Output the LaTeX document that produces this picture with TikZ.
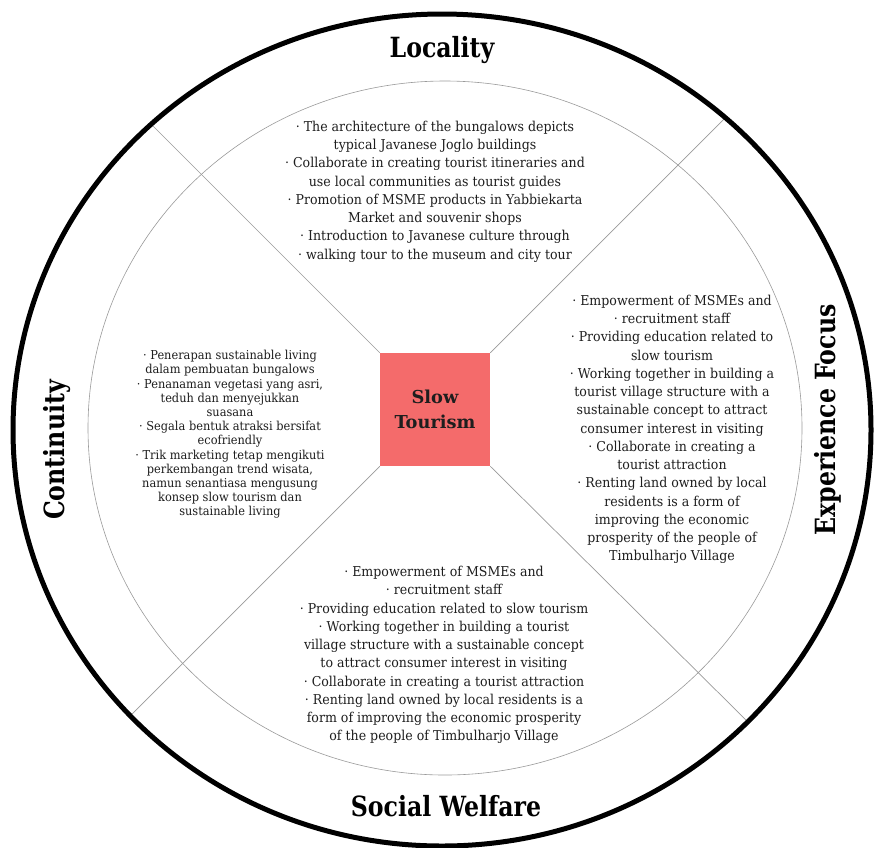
\documentclass[tikz,border=0pt]{standalone}
\usepackage{fontspec}
\setmainfont{DejaVu Serif}
\newfontfamily\titlefont{DejaVu Serif}[FakeStretch=0.85]
\newfontfamily\bodyfont{DejaVu Serif}[FakeStretch=0.925]
\newfontfamily\corefont{DejaVu Serif}
\definecolor{boxred}{HTML}{F46B6B}
\definecolor{thin}{HTML}{9A9A9A}
\definecolor{ink}{HTML}{1E1E1E}
\tikzset{
  outerring/.style={line width=5pt, draw=black},
  innerring/.style={line width=0.6pt, draw=thin},
  divider/.style={line width=0.7pt, draw=thin},
  corebox/.style={fill=boxred, draw=none, minimum width=110pt, minimum height=113pt, inner sep=0pt,
    font=\corefont\bfseries\fontsize{17.8}{25}\selectfont, text=ink, align=center},
  bigtitle/.style={font=\titlefont\bfseries\fontsize{27.8}{30}\selectfont, text=black},
  bodytext/.style={font=\bodyfont\fontsize{13.6}{18.25}\selectfont, align=center, text=ink, inner sep=0pt},
  smalltext/.style={font=\bodyfont\fontsize{12.3}{14.2}\selectfont, align=center, text=ink, inner sep=0pt}
}
\begin{document}
\begin{tikzpicture}[x=1pt,y=-1pt]
\useasboundingbox (0,0) rectangle (874,847);
\fill[white] (0,0) rectangle (874,847);

% coordinates of divider ends on the outer ring
\coordinate (tl) at (152,125);
\coordinate (tr) at (725,118);
\coordinate (br) at (749,723);
\coordinate (bl) at (130,716);

\node[corebox] (core) at (435,409.5) {Slow\\Tourism};

\draw[divider] (core.north west) -- (tl);
\draw[divider] (core.north east) -- (tr);
\draw[divider] (core.south east) -- (br);
\draw[divider] (core.south west) -- (bl);

\draw[innerring] (445,428) ellipse [x radius=357, y radius=347];
\draw[outerring] (442,430) ellipse [x radius=429, y radius=416];

\node[bigtitle] (loc) at (442,50) {Locality};
\node[bigtitle] (soc) at (446,806) {Social Welfare};
\node[bigtitle, rotate=90] (exp) at (828,420) {Experience Focus};
\node[bigtitle, rotate=90] (con) at (57,450) {Continuity};

\node[bodytext] (ltext) at (435,191.5) {%
· The architecture of the bungalows depicts\\
typical Javanese Joglo buildings\\
· Collaborate in creating tourist itineraries and\\
use local communities as tourist guides\\
· Promotion of MSME products in Yabbiekarta\\
Market and souvenir shops\\
· Introduction to Javanese culture through\\
· walking tour to the museum and city tour};

\node[bodytext] (etext) at (672,429.5) {%
· Empowerment of MSMEs and\\
· recruitment staff\\
· Providing education related to\\
slow tourism\\
· Working together in building a\\
tourist village structure with a\\
sustainable concept to attract\\
consumer interest in visiting\\
· Collaborate in creating a\\
tourist attraction\\
· Renting land owned by local\\
residents is a form of\\
improving the economic\\
prosperity of the people of\\
Timbulharjo Village};

\node[smalltext] (ctext) at (230,434.5) {%
· Penerapan sustainable living\\
dalam pembuatan bungalows\\
· Penanaman vegetasi yang asri,\\
teduh dan menyejukkan\\
suasana\\
· Segala bentuk atraksi bersifat\\
ecofriendly\\
· Trik marketing tetap mengikuti\\
perkembangan trend wisata,\\
namun senantiasa mengusung\\
konsep slow tourism dan\\
sustainable living};

\node[bodytext] (stext) at (444,655) {%
· Empowerment of MSMEs and\\
· recruitment staff\\
· Providing education related to slow tourism\\
· Working together in building a tourist\\
village structure with a sustainable concept\\
to attract consumer interest in visiting\\
· Collaborate in creating a tourist attraction\\
· Renting land owned by local residents is a\\
form of improving the economic prosperity\\
of the people of Timbulharjo Village};
\end{tikzpicture}
\end{document}
